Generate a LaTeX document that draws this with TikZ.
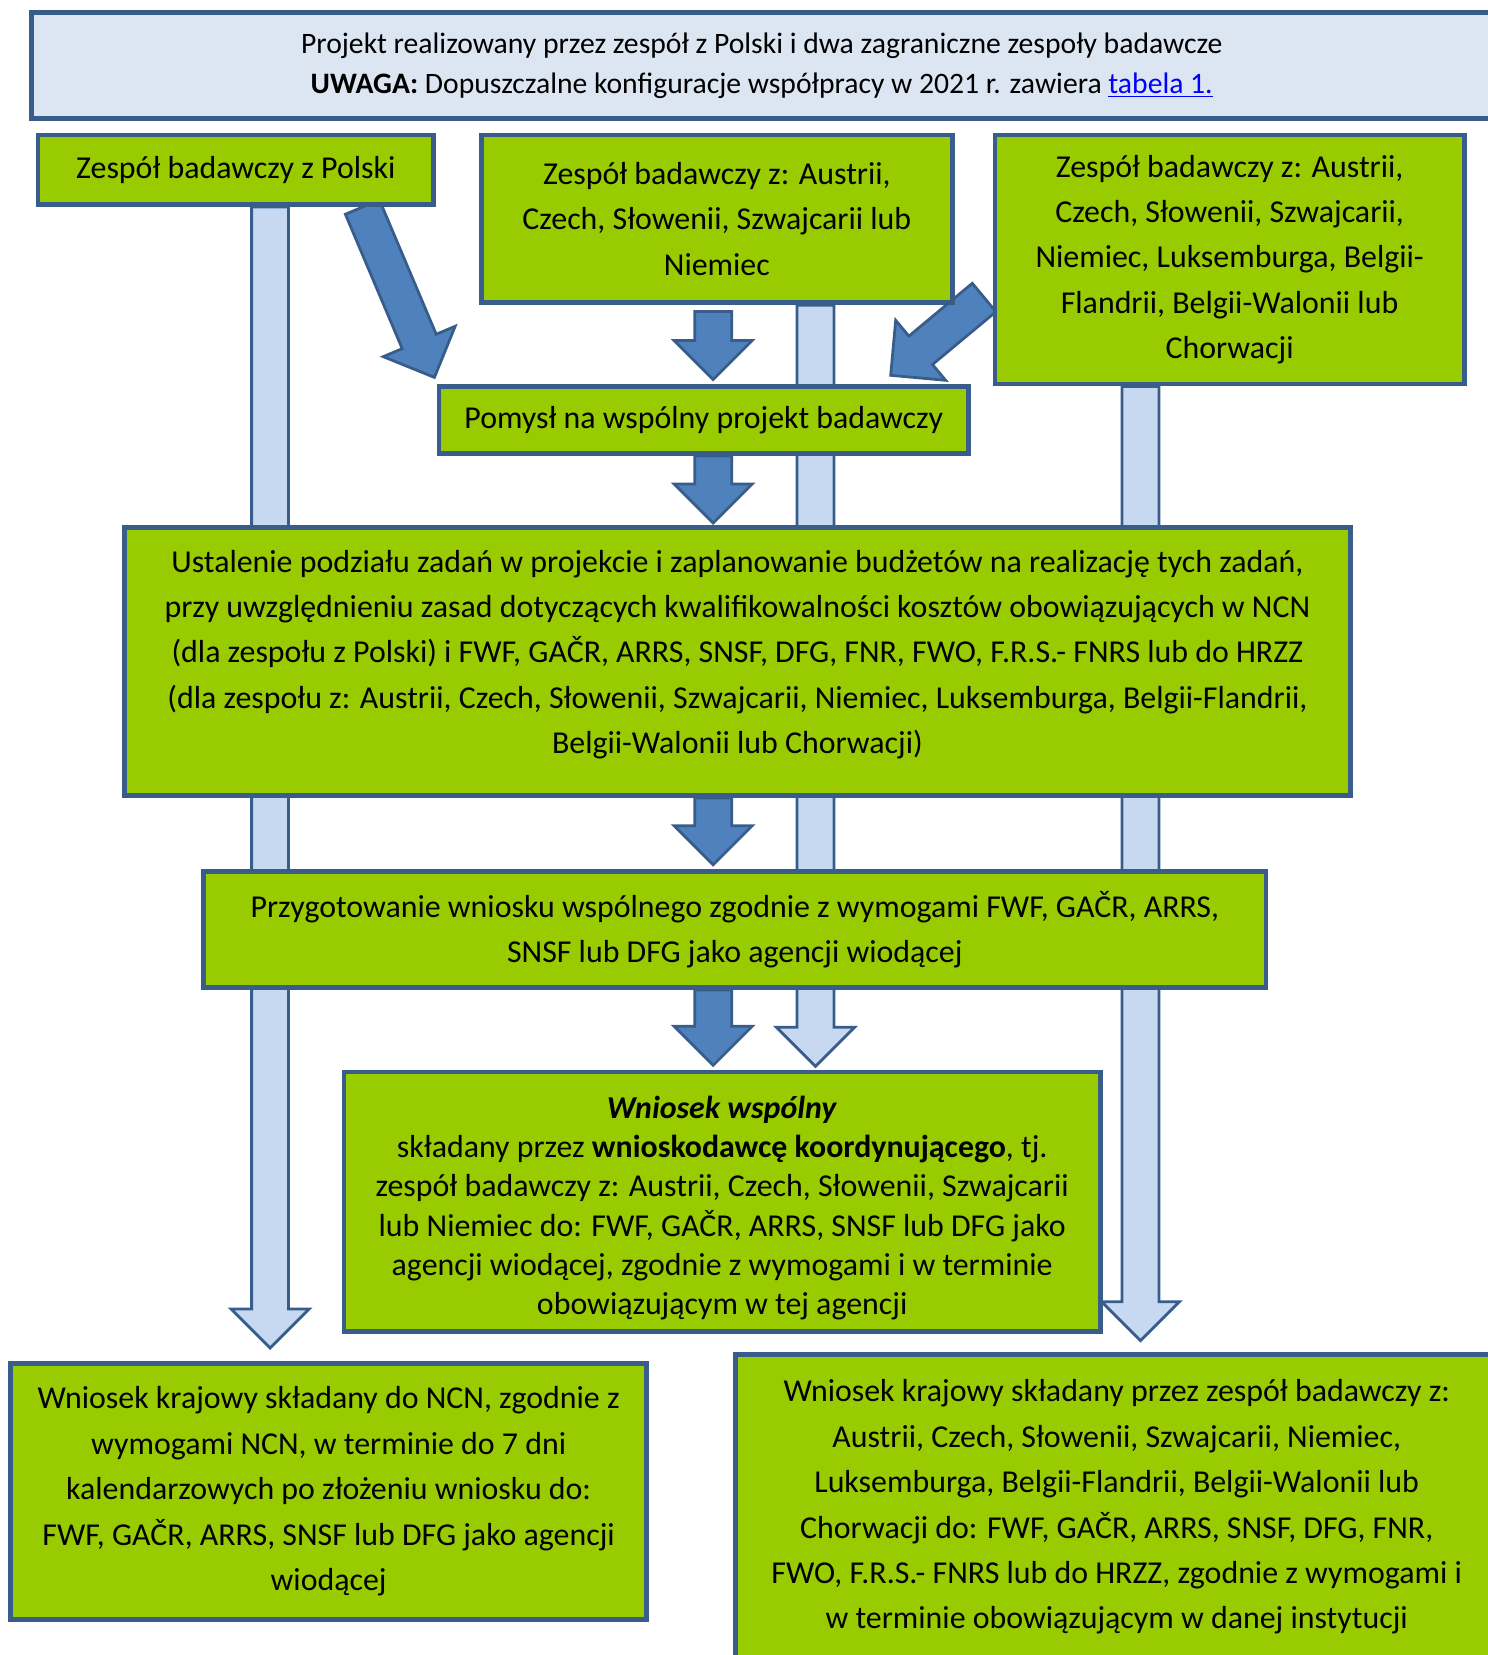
\documentclass[tikz,border=0pt]{standalone}
\usepackage{fontspec}
\setmainfont{Carlito}
\usetikzlibrary{calc, backgrounds}
\definecolor{boxgreen}{HTML}{99CC00}
\definecolor{boxline}{HTML}{385D8A}
\definecolor{notefill}{HTML}{DCE6F2}
\definecolor{arrowdark}{HTML}{4F81BD}
\definecolor{arrowlight}{HTML}{C6D9F1}
\definecolor{linkblue}{HTML}{0000FF}
\begin{document}
\begin{tikzpicture}[x=0.02cm, y=-0.02cm]

%---- STYLES ----
\tikzset{
    box/.style={draw=boxline, line width=2.6pt, fill=boxgreen, align=center,
        inner sep=0pt, font=\fontsize{17.2}{24.5}\selectfont},
    note/.style={box, fill=notefill, font=\fontsize{16}{21.6}\selectfont},
    dark/.style={draw=boxline, line width=1.5pt, fill=arrowdark},
    light/.style={draw=boxline, line width=1.5pt, fill=arrowlight},
}

% arrow sizes
\def\shaft{0.35cm}
\def\headw{0.74cm}
\def\headlen{0.74cm}

% block arrow: style, start, tip
\def\blockarrow#1#2#3{%
  \coordinate (ba-s) at (#2);
  \coordinate (ba-t) at (#3);
  \coordinate (ba-h) at ($(ba-t)!\headlen!(ba-s)$);
  \draw[#1] ($(ba-s)!\shaft!90:(ba-t)$) -- ($(ba-h)!\shaft!90:(ba-t)$)
    -- ($(ba-h)!\headw!90:(ba-t)$) -- (ba-t)
    -- ($(ba-h)!\headw!-90:(ba-t)$) -- ($(ba-h)!\shaft!-90:(ba-t)$)
    -- ($(ba-s)!\shaft!-90:(ba-t)$) -- cycle;
}

\useasboundingbox (0,0) rectangle (1410.4,1568.7);

%---- BOXES ----
\node[note, minimum width=27.68cm, minimum height=2cm] (intro) at (722,62)
  {Projekt realizowany przez zespół z Polski i dwa zagraniczne zespoły badawcze\\
   \textbf{UWAGA:} Dopuszczalne konfiguracje współpracy w 2021 r. zawiera
   \textcolor{linkblue}{\underline{tabela 1.}}};
\node[box, minimum width=7.5cm, minimum height=1.32cm] (polska) at (223.5,161)
  {Zespół badawczy z Polski};
\node[box, minimum width=8.94cm, minimum height=3.18cm] (austria) at (679.5,207.5)
  {Zespół badawczy z: Austrii,\\ Czech, Słowenii, Szwajcarii lub\\ Niemiec};
\node[box, minimum width=8.9cm, minimum height=4.72cm] (croatia) at (1165.5,246)
  {Zespół badawczy z: Austrii,\\ Czech, Słowenii, Szwajcarii,\\ Niemiec, Luksemburga, Belgii-\\
   Flandrii, Belgii-Walonii lub\\ Chorwacji};
\node[box, minimum width=10.04cm, minimum height=1.28cm] (idea) at (667,398)
  {Pomysł na wspólny projekt badawczy};
\node[box, minimum width=23.24cm, minimum height=5.08cm] (ustal) at (699,627)
  {Ustalenie podziału zadań w projekcie i zaplanowanie budżetów na realizację tych zadań,\\
   przy uwzględnieniu zasad dotyczących kwalifikowalności kosztów obowiązujących w NCN\\
   (dla zespołu z Polski) i FWF, GAČR, ARRS, SNSF, DFG, FNR, FWO, F.R.S.- FNRS lub do HRZZ\\
   (dla zespołu z: Austrii, Czech, Słowenii, Szwajcarii, Niemiec, Luksemburga, Belgii-Flandrii,\\
   Belgii-Walonii lub Chorwacji)\\[-14pt]\mbox{}};
\node[box, minimum width=20.14cm, minimum height=2.2cm] (przyg) at (696.5,881)
  {Przygotowanie wniosku wspólnego zgodnie z wymogami FWF, GAČR, ARRS,\\
   SNSF lub DFG jako agencji wiodącej};
\node[box, minimum width=14.34cm, minimum height=4.92cm,
      font=\fontsize{17.2}{21.2}\selectfont] (wspolny) at (684.5,1139)
  {\rule{0pt}{19pt}\textbf{\textit{Wniosek wspólny}}\\
   składany przez \textbf{wnioskodawcę koordynującego}, tj.\\
   zespół badawczy z: Austrii, Czech, Słowenii, Szwajcarii\\
   lub Niemiec do: FWF, GAČR, ARRS, SNSF lub DFG jako\\
   agencji wiodącej, zgodnie z wymogami i w terminie\\
   obowiązującym w tej agencji};
\node[box, minimum width=12.06cm, minimum height=4.86cm] (ncn) at (311.5,1413.5)
  {Wniosek krajowy składany do NCN, zgodnie z\\ wymogami NCN, w terminie do 7 dni\\
   kalendarzowych po złożeniu wniosku do:\\ FWF, GAČR, ARRS, SNSF lub DFG jako agencji\\
   wiodącej};
\node[box, minimum width=14.46cm, minimum height=5.78cm] (krajowy) at (1058.5,1428.5)
  {Wniosek krajowy składany przez zespół badawczy z:\\
   Austrii, Czech, Słowenii, Szwajcarii, Niemiec,\\
   Luksemburga, Belgii-Flandrii, Belgii-Walonii lub\\
   Chorwacji do: FWF, GAČR, ARRS, SNSF, DFG, FNR,\\
   FWO, F.R.S.- FNRS lub do HRZZ, zgodnie z wymogami i\\
   w terminie obowiązującym w danej instytucji};

% COLUMNS of the long arrows
\coordinate (xl) at (256,0);
\coordinate (xm) at (773,0);
\coordinate (xr) at (1081,0);
\coordinate (xd) at (676,0);

\begin{scope}[on background layer]
%---- LIGHT ARROWS ----
\blockarrow{light}{polska.south -| xl}{$(ncn.north -| xl)+(0,-12)$}
\blockarrow{light}{austria.south -| xm}{$(wspolny.north -| xm)+(0,-3)$}
\blockarrow{light}{croatia.south -| xr}{$(krajowy.north -| xr)+(0,-11)$}

%---- DARK ARROWS ----
\blockarrow{dark}{$(polska.south)+(120,0)$}{$(idea.north west)+(-2,-6)$}
\blockarrow{dark}{$(austria.south -| xd)+(0,6)$}{$(idea.north -| xd)+(0,-4)$}
\blockarrow{dark}{$(croatia.west)+(-8,36)$}{$(idea.north east)+(-76,-8)$}
\blockarrow{dark}{idea.south -| xd}{$(ustal.north -| xd)+(0,-2)$}
\blockarrow{dark}{ustal.south -| xd}{$(przyg.north -| xd)+(0,-4)$}
\blockarrow{dark}{przyg.south -| xd}{$(wspolny.north -| xd)+(0,-4)$}
\end{scope}

\end{tikzpicture}
\end{document}
